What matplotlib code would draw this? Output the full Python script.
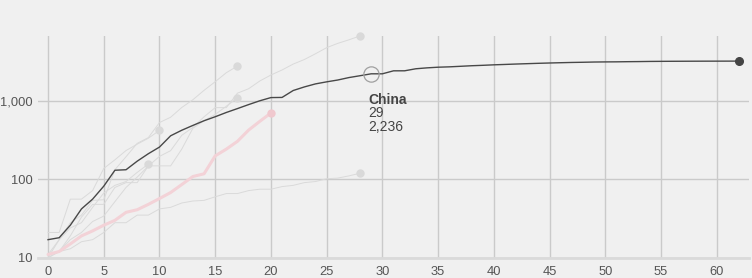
import numpy as np
import matplotlib
matplotlib.use("Agg")
import matplotlib.pyplot as plt
from matplotlib.lines import Line2D

plt.rcParams['font.family'] = ['Liberation Sans', 'DejaVu Sans']

# deaths, by days since the 10th death
china = [17, 18, 26, 42, 56, 82, 131, 133, 171, 213, 259, 361, 425, 490, 562, 632,
         717, 804, 904, 1011, 1111, 1116, 1368, 1520, 1662, 1765, 1863, 2002, 2114,
         2236, 2236, 2441, 2443, 2593, 2663, 2715, 2744, 2788, 2835, 2870, 2912, 2945,
         2981, 3013, 3045, 3073, 3099, 3123, 3140, 3162, 3173, 3180, 3194, 3204, 3218,
         3226, 3232, 3236, 3240, 3243, 3245, 3247, 3250]
usa = [11, 12, 15, 19, 22, 26, 30, 38, 41, 48, 57, 68, 86, 109, 118, 200, 244, 307,
       427, 552, 706]
italy = [10, 12, 17, 21, 29, 34, 52, 79, 107, 148, 197, 233, 366, 463, 631, 827, 827,
         1266, 1441, 1809, 2158, 2503, 2978, 3405, 4032, 4825, 5476, 6077, 6820]
spain = [10, 17, 28, 35, 54, 55, 133, 195, 289, 342, 533, 623, 830, 1043, 1375, 1772,
         2311, 2808]
france = [10, 12, 19, 33, 48, 48, 79, 91, 91, 149, 149, 149, 244, 451, 563, 676, 862, 1102]
uk = [21, 21, 56, 56, 72, 138, 178, 234, 282, 336, 423]
germany = [11, 17, 24, 28, 44, 67, 84, 94, 123, 157]
korea = [11, 12, 13, 16, 17, 21, 28, 28, 35, 35, 42, 44, 50, 53, 54, 60, 66, 66, 72, 75,
         75, 81, 84, 91, 94, 102, 104, 111, 120]

others = [italy, spain, france, uk, germany, korea]

hl_name = 'China'
hl_day = 29
x_ticks = list(range(0, 61, 5))
y_ticks = [10, 100, 1000]
y_labels = ['10', '100', '1,000']

bg = '#f0f0f0'
fig = plt.figure(figsize=(7.52, 2.78), dpi=100, facecolor=bg)
ax = fig.add_axes([38 / 752, 1 - 257.7 / 278, 711 / 752, 221.7 / 278])
ax.set_facecolor(bg)

for s in others:
    d = np.arange(len(s))
    ax.plot(d, s, color='#dadada', lw=0.7, zorder=2)
    ax.plot(d[-1], s[-1], 'o', color='#d9d9d9', ms=5, zorder=2, clip_on=False)

d = np.arange(len(usa))
ax.plot(d, usa, color='#f3d2d7', lw=2.2, zorder=3, solid_capstyle='round')
ax.plot(d[-1], usa[-1], 'o', color='#f0c8ce', ms=5, zorder=3)

d = np.arange(len(china))
ax.plot(d, china, color='#484848', lw=1.0, zorder=4)
ax.plot(d[-1], china[-1], 'o', color='#444444', ms=5.5, zorder=5, clip_on=False)

# hover point
ax.plot(hl_day, china[hl_day], 'o', mfc='none', mec='#a0a0a0', mew=0.9, ms=11, zorder=6)
x0, y0 = ax.transData.transform((hl_day, china[hl_day]))
stem = Line2D([x0, x0], [y0 - 5.8, y0 - 16], transform=None, color='#b0b0b0', lw=0.9,
              zorder=6)
ax.add_artist(stem)

ax.annotate(hl_name, xy=(hl_day, china[hl_day]), xytext=(-2.2, -21.5),
            textcoords='offset points', va='baseline', fontsize=10,
            fontweight='bold', color='#444444', zorder=7)
ax.annotate(str(hl_day), xy=(hl_day, china[hl_day]), xytext=(-2.2, -31.3),
            textcoords='offset points', va='baseline', fontsize=10,
            color='#444444', zorder=7)
ax.annotate(f'{china[hl_day]:,}', xy=(hl_day, china[hl_day]), xytext=(-2.2, -41.3),
            textcoords='offset points', va='baseline', fontsize=10,
            color='#444444', zorder=7)

ax.set_yscale('log')
ax.set_xlim(-0.9, 62.9)
ax.set_ylim(10, 6800)
ax.set_xticks(x_ticks)
ax.set_yticks(y_ticks)
ax.set_yticklabels(y_labels)
ax.yaxis.set_minor_locator(matplotlib.ticker.NullLocator())
ax.tick_params(length=0, labelsize=9.3, labelcolor='#555555')
ax.tick_params(axis='x', pad=6)
ax.tick_params(axis='y', pad=4)
ax.grid(True, color='#cacaca', lw=1.0)
ax.set_axisbelow(True)
for sp in ['top', 'right', 'left']:
    ax.spines[sp].set_visible(False)
ax.spines['bottom'].set_color('#dadada')
ax.spines['bottom'].set_linewidth(2)

fig.savefig('out.png', dpi=100, facecolor=bg)
